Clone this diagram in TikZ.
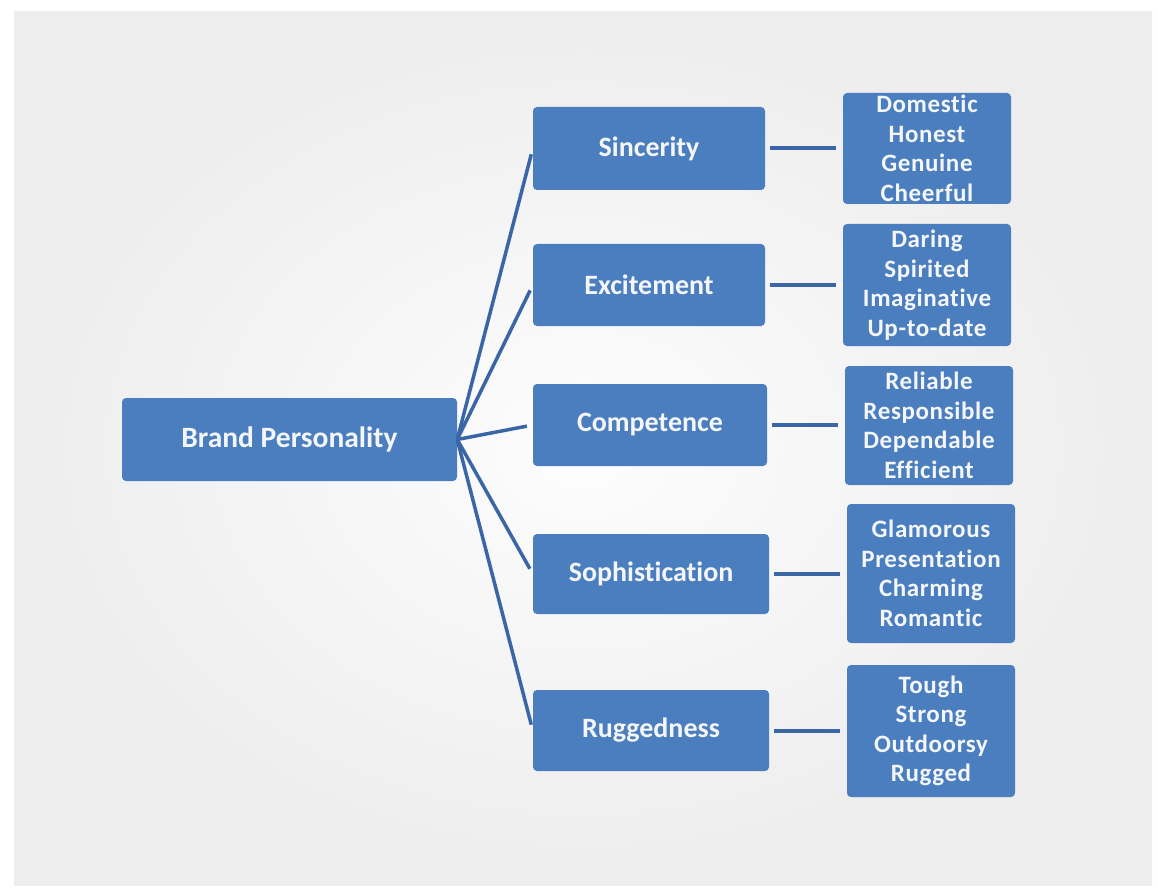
\documentclass[tikz,border=0pt]{standalone}
\usepackage{fontspec}
\setmainfont{Carlito}[Ligatures=NoCommon]
\definecolor{boxfill}{HTML}{4A7EBE}
\definecolor{link}{HTML}{3A66A6}
\definecolor{paper}{HTML}{EDEDED}
\definecolor{glow}{HTML}{FDFDFD}
\definecolor{label}{HTML}{F4F6FA}

\begin{document}
\begin{tikzpicture}[x=1pt,y=-1pt,
  every node/.style={text=label,font=\bfseries,inner sep=0pt},
  card/.style={fill=boxfill,rounded corners=4pt,align=center},
  root/.style={card,minimum width=335pt,minimum height=83pt,font=\fontsize{29.5}{34}\selectfont\bfseries},
  trait/.style={card,minimum width=234pt,minimum height=82pt,font=\fontsize{28}{32}\selectfont\bfseries},
  facets/.style={card,minimum width=168pt,
    font=\fontsize{25}{29.5}\selectfont\bfseries\addfontfeature{LetterSpace=2.5}},
  branch/.style={draw=link,line width=3.5pt,shorten >=6pt},
  spoke/.style={draw=link,line width=4pt,shorten <=5pt,shorten >=7pt}]

% Page and soft grey backdrop.
\useasboundingbox (0,0) rectangle (1158,890);
\shade[inner color=glow,outer color=paper] (14,12) rectangle (1152,885);

% -------------------------------------------------------------------------
% Root and the five personality dimensions.
% -------------------------------------------------------------------------
\node[root] (brand) at (289.5,439.5) {Brand Personality};
\node[trait,minimum width=232pt,minimum height=83pt] (sincerity) at (649,148.5) {Sincerity};
\node[trait,minimum width=232pt] (excitement) at (649,285) {Excitement};
\node[trait] (competence) at (650,425) {Competence};
\node[trait,minimum width=236pt,minimum height=80pt] (sophistication) at (651,574) {Sophistication};
\node[trait,minimum width=236pt,minimum height=81pt] (ruggedness) at (651,730.5) {Ruggedness};

% -------------------------------------------------------------------------
% Facets of each dimension.
% -------------------------------------------------------------------------
\node[facets,minimum height=111pt] (sincList) at (927,148.5)
  {Domestic\\Honest\\Genuine\\Cheerful};
\node[facets,minimum height=122pt] (exciList) at (927,285)
  {Daring\\Spirited\\Imaginative\\Up-to-date};
\node[facets,minimum height=119pt] (compList) at (929,425.5)
  {Reliable\\Responsible\\Dependable\\Efficient};
\node[facets,minimum height=139pt] (sophList) at (931,573.5)
  {Glamorous\\Presentation\\Charming\\Romantic};
\node[facets,minimum height=132pt] (ruggList) at (931,731)
  {Tough\\Strong\\Outdoorsy\\Rugged};

% -------------------------------------------------------------------------
% Connectors.
% -------------------------------------------------------------------------
\draw[branch] (brand.east) -- (sincerity.west);
\draw[branch] (brand.east) -- (excitement.west);
\draw[branch] (brand.east) -- (competence.west);
\draw[branch] (brand.east) -- (sophistication.west);
\draw[branch] (brand.east) -- (ruggedness.west);

\draw[spoke] (sincerity.east) -- (sincerity.east -| sincList.west);
\draw[spoke] (excitement.east) -- (excitement.east -| exciList.west);
\draw[spoke] (competence.east) -- (competence.east -| compList.west);
\draw[spoke] (sophistication.east) -- (sophistication.east -| sophList.west);
\draw[spoke] (ruggedness.east) -- (ruggedness.east -| ruggList.west);
\end{tikzpicture}
\end{document}
